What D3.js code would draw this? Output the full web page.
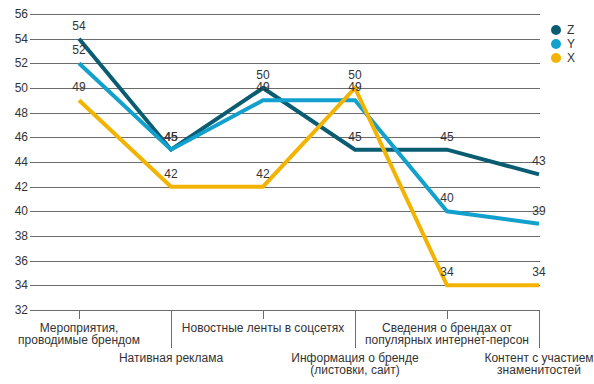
<!DOCTYPE html>
<head>
  <meta charset="utf-8">
  <script src="https://cdn.jsdelivr.net/npm/d3@7"></script>
  <style>
    body { margin: 0; background: #fff; }
    text { font-family: "Liberation Sans", Arial, sans-serif; fill: #333; }
  </style>
</head>
<body>
<svg width="594" height="384"></svg>
<script>
// chart data
var categories = [
  ["Мероприятия,", "проводимые брендом"],
  ["Нативная реклама"],
  ["Новостные ленты в соцсетях"],
  ["Информация о бренде", "(листовки, сайт)"],
  ["Сведения о брендах от", "популярных интернет-персон"],
  ["Контент с участием", "знаменитостей"]
];
var seriesNames = ["Z", "Y", "X"];
var zValues = [54, 45, 50, 45, 45, 43];
var yValues = [52, 45, 49, 49, 40, 39];
var xValues = [49, 42, 42, 50, 34, 34];
var yTicks = [32, 34, 36, 38, 40, 42, 44, 46, 48, 50, 52, 54, 56];

var colors = ["#0a5c73", "#12a0cd", "#f2b400"];
var series = [zValues, yValues, xValues];

var plotLeft = 33, plotRight = 540, plotTop = 14, plotBottom = 310;

var svg = d3.select("svg");

var x = d3.scalePoint()
  .domain(d3.range(categories.length))
  .range([79, 539]);

var y = d3.scaleLinear()
  .domain([32, 56])
  .range([plotBottom, plotTop]);

// gridlines + y labels
var grid = svg.append("g");
grid.selectAll("line")
  .data(yTicks)
  .enter().append("line")
  .attr("x1", plotLeft - 3).attr("x2", plotRight)
  .attr("y1", function(d) { return Math.round(y(d)) + 0.5; })
  .attr("y2", function(d) { return Math.round(y(d)) + 0.5; })
  .attr("stroke", "#6b6b6b")
  .attr("stroke-width", 1);

grid.selectAll("text")
  .data(yTicks)
  .enter().append("text")
  .attr("x", plotLeft - 5)
  .attr("y", function(d) { return y(d) + 4; })
  .attr("text-anchor", "end")
  .style("font-size", "12px")
  .text(function(d) { return d; });

// category ticks (every other one long, for the lower label row)
svg.append("g").selectAll("line")
  .data(categories)
  .enter().append("line")
  .attr("x1", function(d, i) { return Math.round(x(i)) + 0.5; })
  .attr("x2", function(d, i) { return Math.round(x(i)) + 0.5; })
  .attr("y1", plotBottom)
  .attr("y2", function(d, i) { return i % 2 ? 348 : 319; })
  .attr("stroke", "#6b6b6b");

var labels = svg.append("g").selectAll("text")
  .data(categories)
  .enter().append("text")
  .attr("text-anchor", "middle")
  .style("font-size", "12px")
  .attr("transform", function(d, i) {
    return "translate(" + x(i) + "," + (i % 2 ? 362 : 332) + ")";
  });
labels.selectAll("tspan")
  .data(function(d) { return d; })
  .enter().append("tspan")
  .attr("x", 0)
  .attr("dy", function(d, j) { return j ? 12 : 0; })
  .text(function(d) { return d; });

// lines
var line = d3.line()
  .x(function(d, i) { return x(i); })
  .y(function(d) { return y(d); });

svg.append("g").selectAll("path")
  .data(series)
  .enter().append("path")
  .attr("d", line)
  .attr("fill", "none")
  .attr("stroke", function(d, i) { return colors[i]; })
  .attr("stroke-width", 4)
  .attr("stroke-linejoin", "miter");

// value labels
series.forEach(function(vals) {
  svg.append("g").selectAll("text")
    .data(vals)
    .enter().append("text")
    .attr("x", function(d, i) { return x(i); })
    .attr("y", function(d) { return y(d) - 9; })
    .attr("text-anchor", "middle")
    .style("font-size", "12px")
    .text(function(d) { return d; });
});

// legend
var legend = svg.append("g").selectAll("g")
  .data(seriesNames)
  .enter().append("g")
  .attr("transform", function(d, i) { return "translate(556," + (30 + i * 14) + ")"; });
legend.append("circle")
  .attr("r", 5)
  .attr("fill", function(d, i) { return colors[i]; });
legend.append("text")
  .attr("x", 11)
  .attr("y", 4)
  .style("font-size", "12px")
  .text(function(d) { return d; });
</script>
</body>
</html>
